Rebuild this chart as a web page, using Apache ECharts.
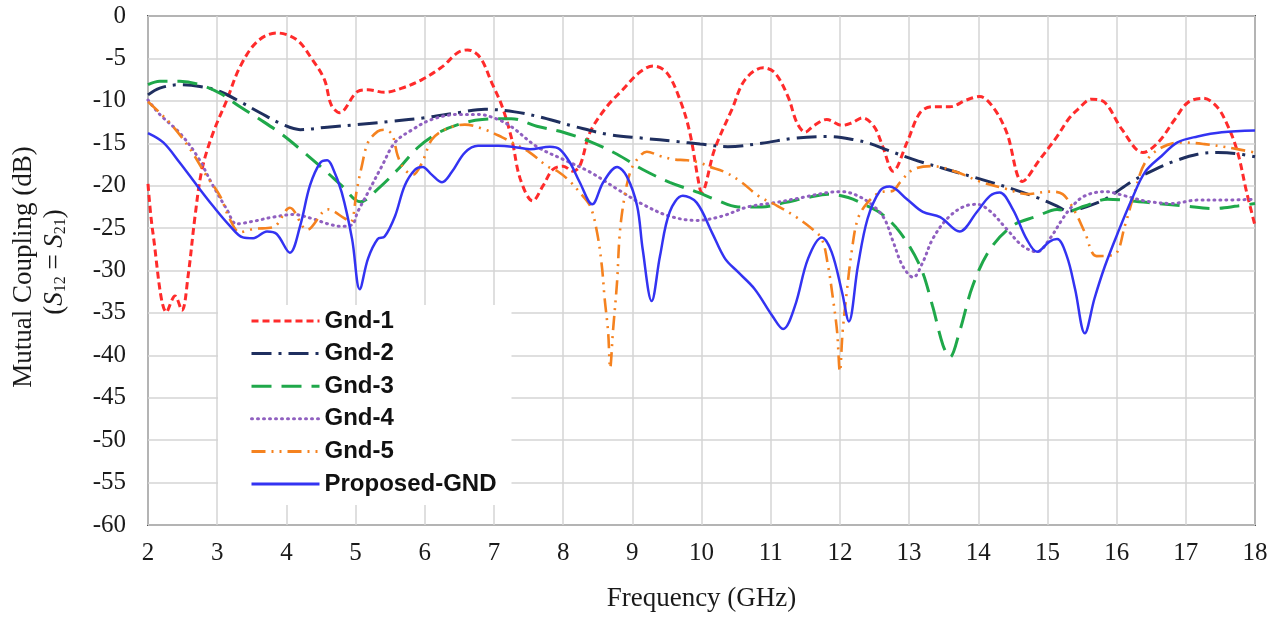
<!DOCTYPE html>
<html>
<head>
<meta charset="utf-8">
<title>Mutual Coupling vs Frequency</title>
<script src="https://cdn.jsdelivr.net/npm/echarts@6/dist/echarts.min.js"></script>
<style>
  html, body { margin: 0; padding: 0; background: #fff; }
  #chart { width: 1279px; height: 617px; }
</style>
</head>
<body>
<div id="chart"></div>
<script>
// Frequency (GHz) sample points and mutual coupling S12 = S21 (dB) for each ground variant
const gnd1Freq = [2.00, 2.07, 2.27, 2.39, 2.49, 2.58, 2.68, 2.78, 2.94, 3.14, 3.33, 3.58, 3.86, 4.15, 4.38, 4.55, 4.65, 4.77, 5.03, 5.18, 5.42, 5.67, 5.96, 6.25, 6.48, 6.62, 6.80, 6.97, 7.12, 7.26, 7.38, 7.56, 7.71, 7.85, 8.00, 8.14, 8.24, 8.39, 8.63, 8.86, 9.11, 9.30, 9.50, 9.69, 9.83, 9.95, 10.00, 10.19, 10.44, 10.63, 10.89, 11.06, 11.25, 11.38, 11.50, 11.61, 11.81, 12.03, 12.17, 12.33, 12.50, 12.62, 12.77, 12.97, 13.16, 13.34, 13.59, 13.83, 14.02, 14.21, 14.41, 14.64, 14.89, 15.14, 15.30, 15.44, 15.64, 15.83, 16.08, 16.38, 16.60, 16.84, 17.03, 17.25, 17.45, 17.61, 17.75, 17.88, 18.00];
const gnd1Val  = [-19.8, -25.5, -34.9, -33.0, -34.7, -30.6, -23.6, -18.1, -13.8, -9.9, -6.0, -3.0, -2.0, -2.8, -5.2, -7.5, -10.5, -11.4, -8.9, -8.7, -9.0, -8.5, -7.5, -6.0, -4.3, -4.0, -4.9, -7.9, -10.7, -14.6, -19.2, -21.8, -20.0, -18.1, -17.7, -18.3, -17.7, -13.7, -10.7, -8.7, -6.6, -5.9, -6.7, -9.9, -13.7, -19.2, -20.8, -15.7, -11.0, -7.5, -6.1, -6.7, -9.5, -12.6, -13.7, -13.0, -12.2, -12.9, -12.6, -12.0, -13.1, -15.4, -18.3, -14.9, -11.4, -10.7, -10.7, -9.9, -9.5, -10.7, -13.7, -19.5, -16.9, -14.2, -12.2, -11.0, -9.8, -10.2, -13.4, -16.1, -14.9, -12.2, -10.2, -9.7, -10.7, -13.0, -16.1, -20.8, -24.7];

const gnd2Freq = [2.00, 2.17, 2.46, 2.75, 3.04, 3.33, 3.62, 3.95, 4.20, 4.59, 5.03, 5.53, 6.00, 6.48, 6.87, 7.30, 7.71, 8.20, 8.68, 9.15, 9.64, 9.98, 10.38, 10.87, 11.35, 11.83, 12.22, 12.46, 12.62, 13.06, 13.55, 14.02, 14.50, 14.85, 15.14, 15.30, 15.44, 15.83, 16.22, 16.55, 16.84, 17.17, 17.46, 17.71, 18.00];
const gnd2Val  = [-9.3, -8.5, -8.1, -8.3, -8.9, -10.1, -11.4, -12.8, -13.4, -13.1, -12.8, -12.4, -12.0, -11.4, -11.0, -11.3, -12.0, -13.1, -14.0, -14.4, -14.8, -15.1, -15.4, -15.0, -14.4, -14.2, -14.6, -15.1, -15.6, -16.9, -18.1, -19.2, -20.4, -21.4, -22.4, -23.0, -22.8, -21.6, -19.5, -18.1, -17.1, -16.3, -16.1, -16.2, -16.6];

const gnd3Freq = [2.00, 2.17, 2.46, 2.75, 3.04, 3.33, 3.62, 3.91, 4.20, 4.57, 4.80, 5.07, 5.32, 5.61, 5.90, 6.19, 6.48, 6.83, 7.25, 7.62, 8.00, 8.39, 8.78, 9.15, 9.54, 9.95, 10.19, 10.53, 10.87, 11.20, 11.54, 11.83, 12.12, 12.40, 12.60, 12.87, 13.16, 13.34, 13.49, 13.59, 13.73, 13.92, 14.17, 14.50, 14.85, 15.14, 15.30, 15.54, 15.87, 16.22, 16.60, 16.99, 17.38, 17.75, 18.00];
const gnd3Val  = [-8.1, -7.7, -7.7, -8.1, -9.1, -10.7, -12.2, -13.8, -15.7, -18.3, -20.0, -21.9, -20.4, -18.1, -15.5, -13.8, -12.8, -12.2, -12.1, -13.0, -13.7, -14.8, -16.3, -18.1, -19.6, -20.8, -21.6, -22.5, -22.5, -22.0, -21.4, -21.0, -21.4, -22.4, -23.3, -25.5, -29.5, -34.2, -38.8, -40.2, -37.2, -31.8, -27.5, -24.7, -23.6, -22.8, -23.0, -22.4, -21.6, -21.8, -22.1, -22.4, -22.7, -22.4, -22.1];

const gnd4Freq = [2.00, 2.17, 2.46, 2.71, 2.94, 3.14, 3.28, 3.52, 3.81, 4.10, 4.38, 4.60, 4.80, 4.95, 5.03, 5.18, 5.38, 5.57, 5.82, 6.10, 6.48, 6.77, 7.06, 7.26, 7.62, 8.00, 8.39, 8.78, 9.15, 9.54, 9.93, 10.29, 10.67, 11.06, 11.45, 11.83, 12.03, 12.26, 12.50, 12.65, 12.77, 12.91, 13.06, 13.20, 13.34, 13.55, 13.78, 13.98, 14.17, 14.41, 14.64, 14.85, 15.03, 15.22, 15.35, 15.54, 15.83, 16.12, 16.41, 16.80, 17.17, 17.56, 18.00];
const gnd4Val  = [-9.9, -11.6, -13.8, -16.5, -20.0, -22.8, -24.5, -24.2, -23.7, -23.4, -23.9, -24.5, -24.8, -24.6, -23.1, -20.8, -17.7, -14.9, -13.4, -12.2, -11.6, -11.6, -12.2, -13.1, -15.4, -16.9, -18.4, -20.4, -22.2, -23.6, -24.1, -23.6, -22.5, -22.0, -21.4, -20.8, -20.7, -21.2, -22.5, -24.0, -26.6, -29.5, -30.8, -29.0, -26.3, -23.9, -22.5, -22.2, -23.0, -25.1, -27.1, -27.8, -26.3, -23.9, -22.5, -21.2, -20.7, -21.2, -21.8, -22.1, -21.7, -21.7, -21.6];

const gnd5Freq = [2.00, 2.17, 2.36, 2.61, 2.85, 3.04, 3.18, 3.33, 3.52, 3.81, 4.05, 4.30, 4.60, 4.85, 4.93, 5.02, 5.09, 5.18, 5.32, 5.42, 5.53, 5.61, 5.71, 5.83, 5.96, 6.10, 6.29, 6.58, 6.87, 7.12, 7.26, 7.52, 7.77, 7.92, 8.10, 8.24, 8.39, 8.49, 8.56, 8.60, 8.65, 8.68, 8.72, 8.78, 8.82, 8.89, 8.97, 9.07, 9.21, 9.40, 9.59, 9.79, 9.98, 10.09, 10.34, 10.58, 10.82, 11.10, 11.35, 11.60, 11.74, 11.83, 11.90, 11.96, 12.00, 12.04, 12.10, 12.17, 12.26, 12.40, 12.58, 12.77, 12.87, 13.06, 13.34, 13.69, 14.02, 14.41, 14.70, 15.03, 15.22, 15.40, 15.54, 15.71, 15.97, 16.12, 16.26, 16.41, 16.65, 16.94, 17.27, 17.61, 18.00];
const gnd5Val  = [-10.1, -11.4, -13.0, -15.7, -18.9, -21.2, -23.9, -25.5, -25.1, -24.9, -22.6, -25.2, -22.8, -23.9, -24.3, -20.4, -17.7, -14.9, -13.6, -13.4, -14.0, -16.5, -18.1, -18.7, -17.3, -14.6, -13.4, -12.8, -13.4, -14.3, -14.9, -16.1, -17.7, -18.3, -19.5, -20.8, -22.4, -25.5, -29.5, -33.3, -37.2, -41.5, -37.2, -31.3, -25.5, -21.2, -18.4, -16.9, -16.0, -16.5, -16.9, -17.0, -17.3, -17.7, -18.4, -19.6, -21.2, -22.4, -23.6, -25.1, -26.3, -29.5, -33.3, -37.2, -41.9, -37.2, -32.5, -27.8, -23.9, -22.0, -20.8, -20.6, -19.6, -18.1, -17.7, -18.4, -19.5, -20.4, -21.0, -20.7, -21.0, -23.1, -25.5, -28.3, -28.1, -24.7, -20.8, -17.3, -15.5, -14.9, -15.1, -15.5, -16.1];

const propFreq = [2.00, 2.22, 2.46, 2.71, 2.94, 3.18, 3.37, 3.52, 3.72, 3.86, 4.05, 4.20, 4.34, 4.49, 4.59, 4.66, 4.80, 4.95, 5.06, 5.18, 5.32, 5.42, 5.57, 5.71, 5.86, 5.97, 6.10, 6.25, 6.39, 6.58, 6.77, 7.06, 7.26, 7.52, 7.81, 7.95, 8.10, 8.24, 8.42, 8.58, 8.78, 8.92, 9.07, 9.15, 9.28, 9.40, 9.54, 9.73, 9.93, 10.15, 10.34, 10.53, 10.77, 11.02, 11.18, 11.35, 11.54, 11.74, 11.88, 12.03, 12.13, 12.26, 12.40, 12.58, 12.72, 12.97, 13.20, 13.45, 13.73, 13.98, 14.17, 14.31, 14.50, 14.70, 14.85, 15.03, 15.14, 15.28, 15.40, 15.54, 15.68, 15.83, 16.02, 16.22, 16.41, 16.65, 16.88, 17.17, 17.52, 18.00];
const propVal  = [-13.8, -14.9, -17.3, -20.0, -22.4, -24.7, -26.1, -26.2, -25.4, -25.7, -27.9, -24.7, -20.0, -17.3, -17.0, -17.7, -20.8, -26.3, -32.2, -28.6, -26.3, -26.0, -23.6, -20.0, -18.1, -17.8, -18.7, -19.6, -18.4, -16.1, -15.3, -15.3, -15.4, -15.7, -15.4, -15.7, -17.3, -19.6, -22.2, -19.6, -17.8, -18.9, -22.4, -27.5, -33.6, -28.3, -23.1, -21.2, -22.0, -25.5, -28.6, -30.2, -32.2, -35.3, -36.9, -34.2, -28.6, -26.1, -27.8, -32.5, -36.0, -29.5, -23.9, -20.6, -20.1, -21.6, -23.1, -23.7, -25.4, -23.1, -21.2, -20.8, -22.8, -26.3, -27.8, -26.6, -26.3, -28.3, -32.2, -37.4, -33.3, -29.5, -25.5, -21.6, -18.4, -16.5, -14.9, -14.2, -13.7, -13.5];

// Axis ranges and labels
const freqMin = 2, freqMax = 18, freqStep = 1;
const dbMin = -60, dbMax = 0, dbStep = 5;
const seriesNames = ['Gnd-1', 'Gnd-2', 'Gnd-3', 'Gnd-4', 'Gnd-5', 'Proposed-GND'];
const xTitle = 'Frequency (GHz)';
const yTitle = 'Mutual Coupling (dB)';

const pairs = (xs, ys) => xs.map((x, i) => [x, ys[i]]);

const serif = '"Liberation Serif", "Times New Roman", serif';

const styles = [
  { color: '#ff2b2b', width: 3, type: [7, 4] },
  { color: '#1f2f5f', width: 3, type: [20, 7, 3, 7] },
  { color: '#1fa84a', width: 3, type: [20, 10] },
  { color: '#9060c0', width: 3, type: [1, 5], cap: 'round' },
  { color: '#f5821f', width: 2.6, type: [14, 6, 2, 6, 2, 6] },
  { color: '#3333f2', width: 2.5, type: 'solid' }
];
const dataSets = [
  pairs(gnd1Freq, gnd1Val),
  pairs(gnd2Freq, gnd2Val),
  pairs(gnd3Freq, gnd3Val),
  pairs(gnd4Freq, gnd4Val),
  pairs(gnd5Freq, gnd5Val),
  pairs(propFreq, propVal)
];

const chart = echarts.init(document.getElementById('chart'), null, { renderer: 'canvas' });

chart.setOption({
  animation: false,
  backgroundColor: '#ffffff',
  grid: {
    left: 148, top: 16, right: 24, bottom: 90,
    show: true, borderColor: '#555555', borderWidth: 2
  },
  xAxis: {
    type: 'value', min: freqMin, max: freqMax, interval: freqStep,
    name: xTitle, nameLocation: 'middle', nameGap: 60,
    nameTextStyle: { fontFamily: serif, fontSize: 27, color: '#1a1a1a' },
    axisLine: { show: false },
    axisTick: { show: false },
    axisLabel: { margin: 16, fontFamily: serif, fontSize: 25, color: '#1a1a1a' },
    splitLine: { show: true, lineStyle: { color: '#d4d4d4', width: 1.5 } }
  },
  yAxis: {
    type: 'value', min: dbMin, max: dbMax, interval: dbStep,
    axisLine: { show: false },
    axisTick: { show: false },
    axisLabel: { margin: 22, fontFamily: serif, fontSize: 25, color: '#1a1a1a' },
    splitLine: { show: true, lineStyle: { color: '#d4d4d4', width: 1.5 } }
  },
  legend: {
    data: seriesNames,
    orient: 'vertical',
    left: 218, top: 305,
    padding: [3, 15, 8, 32],
    backgroundColor: '#ffffff',
    itemWidth: 68, itemHeight: 14, itemGap: 6.6, itemTextGap: 11,
    itemStyle: { opacity: 0 },
    lineStyle: { width: 3 },
    textStyle: {
      fontFamily: '"Liberation Sans", Arial, sans-serif',
      fontWeight: 'bold', fontSize: 24, lineHeight: 26, color: '#111111'
    }
  },
  graphic: [
    {
      type: 'text', x: 24, y: 267, rotation: Math.PI / 2,
      style: {
        text: yTitle, font: '27px ' + serif, fill: '#1a1a1a',
        align: 'center', verticalAlign: 'middle'
      }
    },
    {
      type: 'text', x: 55, y: 262, rotation: Math.PI / 2,
      style: {
        text: '{p|(}{i|S}{s|12}{p| = }{i|S}{s|21}{p|)}',
        align: 'center', verticalAlign: 'middle', fill: '#1a1a1a',
        rich: {
          p: { fontFamily: serif, fontSize: 27, fill: '#1a1a1a' },
          i: { fontFamily: serif, fontSize: 27, fontStyle: 'italic', fill: '#1a1a1a' },
          s: { fontFamily: serif, fontSize: 16, verticalAlign: 'bottom', fill: '#1a1a1a' }
        }
      }
    }
  ],
  series: seriesNames.map((name, k) => ({
    name: name,
    type: 'line',
    data: dataSets[k],
    symbol: 'none',
    smooth: 0.35,
    z: 2 + (k === 5 ? 1 : 0),
    lineStyle: {
      color: styles[k].color,
      width: styles[k].width,
      type: styles[k].type,
      cap: styles[k].cap || 'butt'
    },
    itemStyle: { color: styles[k].color }
  }))
});
</script>
</body>
</html>
